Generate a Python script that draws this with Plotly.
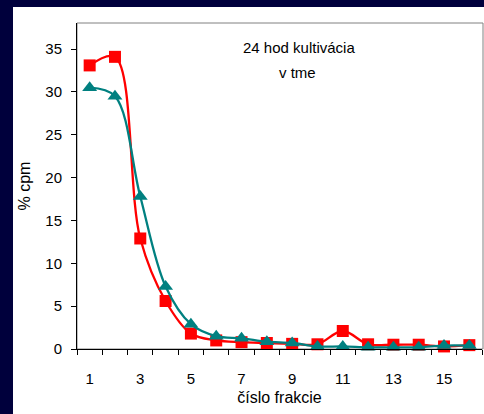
import plotly.graph_objects as go

fractions = list(range(1, 17))
red_values = [33.1, 34.1, 12.9, 5.6, 1.8, 1.0, 0.8, 0.7, 0.6, 0.55, 2.1, 0.55, 0.5, 0.5, 0.3, 0.45]
teal_values = [30.5, 29.5, 17.8, 7.3, 2.9, 1.5, 1.25, 0.85, 0.7, 0.3, 0.3, 0.2, 0.2, 0.2, 0.4, 0.4]
x_tick_labels = [1, 3, 5, 7, 9, 11, 13, 15]
y_tick_values = [0, 5, 10, 15, 20, 25, 30, 35]

FONT = "Liberation Sans, Arial, sans-serif"
NAVY = "#00003c"

fig = go.Figure()
fig.add_trace(go.Scatter(
    x=fractions, y=red_values, mode="lines+markers",
    line=dict(color="#ff0000", width=2.3, shape="spline", smoothing=1.0),
    marker=dict(symbol="square", size=12, color="#ff0000"),
    showlegend=False, cliponaxis=False,
))
fig.add_trace(go.Scatter(
    x=fractions, y=teal_values, mode="lines+markers",
    line=dict(color="#008080", width=2.3, shape="spline", smoothing=1.0),
    marker=dict(symbol="triangle-up", size=13, color="#008080"),
    showlegend=False, cliponaxis=False,
))

L, R, T, B = 77, 2, 23, 65
W, H = 484, 414
pw, ph = W - L - R, H - T - B

def px(x):
    return (x - L) / pw

def py(y):
    return (H - B - y) / ph

shapes = [
    dict(type="rect", xref="paper", yref="paper", x0=0, x1=px(483), y0=0, y1=1,
         line=dict(color="#808080", width=1), layer="below"),
    dict(type="rect", xref="paper", yref="paper", x0=px(0), x1=px(13), y0=py(414), y1=py(0),
         fillcolor=NAVY, line=dict(width=0), layer="above"),
    dict(type="rect", xref="paper", yref="paper", x0=px(0), x1=px(484), y0=py(7), y1=py(0),
         fillcolor=NAVY, line=dict(width=0), layer="above"),
]

fig.update_layout(
    width=W, height=H,
    margin=dict(l=L, r=R, t=T, b=B, pad=0),
    paper_bgcolor="white", plot_bgcolor="white",
    font=dict(family=FONT, size=15, color="black"),
    shapes=shapes,
    annotations=[
        dict(text="24 hod kultivácia", xref="paper", yref="paper",
             x=px(299), y=py(47), xanchor="center", yanchor="middle",
             showarrow=False, font=dict(family=FONT, size=15, color="black")),
        dict(text="v tme", xref="paper", yref="paper",
             x=px(297), y=py(72), xanchor="center", yanchor="middle",
             showarrow=False, font=dict(family=FONT, size=15, color="black")),
    ],
)
fig.update_xaxes(
    range=[0.5, 16.5], tickvals=x_tick_labels, ticktext=[str(v) for v in x_tick_labels],
    ticks="", ticklabelstandoff=16, showgrid=False, zeroline=False,
    showline=True, linecolor="black", linewidth=1,
    minor=dict(tick0=0.5, dtick=1, ticks="outside", ticklen=5, tickcolor="black", showgrid=False),
    title=dict(text="číslo frakcie", standoff=5, font=dict(size=16)),
    tickfont=dict(size=15),
)
fig.update_yaxes(
    range=[0, 38.05], tickvals=y_tick_values, ticks="outside", ticklen=5, tickcolor="black",
    ticklabelstandoff=6, showgrid=False, zeroline=False,
    showline=True, linecolor="black", linewidth=1,
    title=dict(text="% cpm", standoff=10, font=dict(size=16)),
    tickfont=dict(size=15),
)

fig.write_html("out.html")
